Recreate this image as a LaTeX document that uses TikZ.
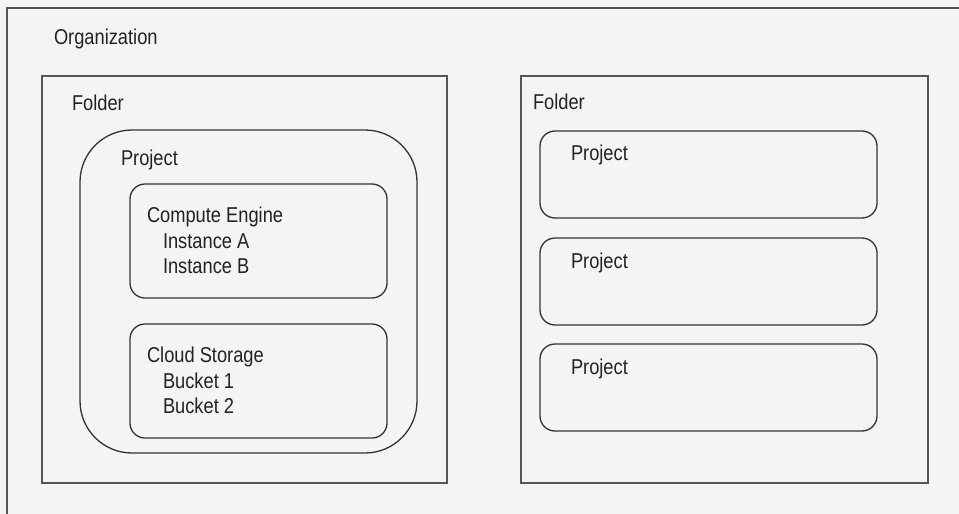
\documentclass[tikz,border=0pt]{standalone}
\usepackage{fontspec}
\setmainfont{Liberation Sans}[FakeStretch=0.85]
\definecolor{bg}{HTML}{F4F4F4}
\definecolor{frame}{HTML}{555555}
\definecolor{rline}{HTML}{333333}
\definecolor{txt}{HTML}{222222}
\begin{document}
\begin{tikzpicture}[x=1pt,y=-1pt,
  sqbox/.style={draw=frame,line width=2pt,fill=bg,inner sep=0pt,outer sep=0pt,anchor=north west},
  bigproj/.style={draw=rline,line width=1.3pt,fill=bg,rounded corners=52pt,inner sep=0pt,outer sep=0pt,anchor=north west},
  smallbox/.style={draw=rline,line width=1.3pt,fill=bg,rounded corners=15pt,inner sep=0pt,outer sep=0pt,anchor=north west},
  lbl/.style={anchor=base west,inner sep=0pt,outer sep=0pt,text=txt,font=\fontsize{21.5}{25.7}\selectfont}]
\fill[bg] (0,0) rectangle (959,514);
\useasboundingbox (0,0) rectangle (959,514);
% organization (extends beyond the frame)
\draw[frame,line width=2pt] (970,8) -- (7,8) -- (7,525);
\node[lbl] (org) at (54,44) {Organization};
% left folder
\node[sqbox,minimum width=405pt,minimum height=407pt] (fL) at (42,76) {};
\node[lbl] (fLt) at (72,110) {Folder};
\node[bigproj,minimum width=337pt,minimum height=323pt] (pBig) at (80,130) {};
\node[lbl] (pBigt) at (121,165) {Project};
\node[smallbox,minimum width=257pt,minimum height=114pt] (ce) at (130,184) {};
\node[lbl] (cet) at (147,222.5) {Compute Engine};
\node[lbl] (ia) at (163,248.3) {Instance A};
\node[lbl] (ib) at (163,273.5) {Instance B};
\node[smallbox,minimum width=257pt,minimum height=114pt] (cs) at (130,324) {};
\node[lbl] (cst) at (147,362.5) {Cloud Storage};
\node[lbl] (b1) at (163,388.3) {Bucket 1};
\node[lbl] (b2) at (163,413) {Bucket 2};
% right folder
\node[sqbox,minimum width=407pt,minimum height=407pt] (fR) at (521,76) {};
\node[lbl] (fRt) at (533,109.5) {Folder};
\node[smallbox,minimum width=337pt,minimum height=87pt] (p1) at (540,131) {};
\node[lbl] (p1t) at (571,160.7) {Project};
\node[smallbox,minimum width=337pt,minimum height=87pt] (p2) at (540,238) {};
\node[lbl] (p2t) at (571,268.3) {Project};
\node[smallbox,minimum width=337pt,minimum height=87pt] (p3) at (540,344) {};
\node[lbl] (p3t) at (571,374) {Project};
\end{tikzpicture}
\end{document}
